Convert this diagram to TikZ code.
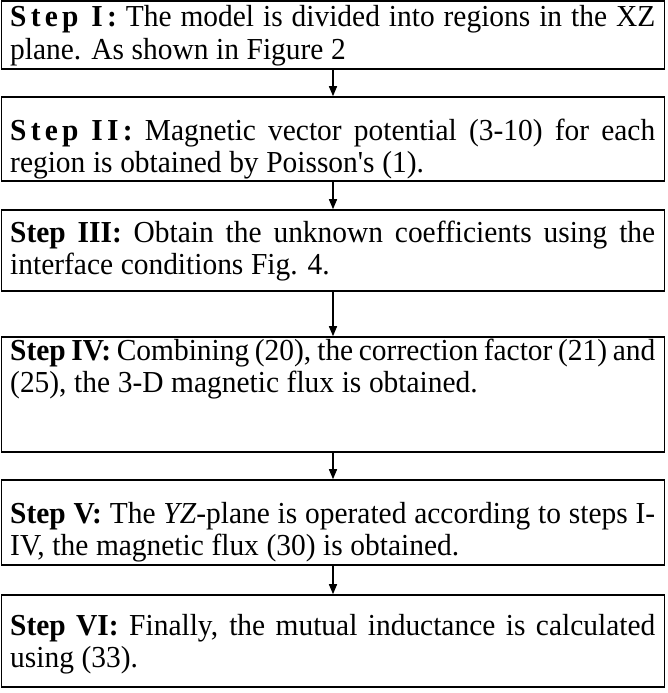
\documentclass[tikz,border=0pt]{standalone}
\usepackage{fontspec}
\setmainfont{Liberation Serif}[FakeStretch=0.965, Ligatures=TeXOff]
\usetikzlibrary{arrows.meta}
\newcommand{\stepfont}{\fontsize{30.5}{32.5}\selectfont\spaceskip=0.25em plus 0.25em minus 0.1em\relax}
\newcommand{\spaced}[1]{{\bfseries\addfontfeature{LetterSpace=14}#1}}
\newcommand{\spacedlabel}[1]{\spaced{Step}\hspace{0.42em}\spaced{#1}}
\tikzset{
  stepbox/.style={draw, line width=1.6pt, rectangle, minimum width=663pt, inner sep=0pt},
  steptext/.style={anchor=base west, text width=645pt, align=justify, inner sep=0pt, font=\stepfont},
  flow/.style={-{Triangle[length=10pt,width=8pt]}, line width=1.4pt}
}
\begin{document}
\begin{tikzpicture}[x=1pt,y=-1pt]
\useasboundingbox (0,0) rectangle (668,693);
% boxes
\node[stepbox, minimum height=68pt]  (b1) at (333,35) {};
\node[stepbox, minimum height=84pt]  (b2) at (333,139) {};
\node[stepbox, minimum height=81pt]  (b3) at (333,250.5) {};
\node[stepbox, minimum height=115pt] (b4) at (333,394.5) {};
\node[stepbox, minimum height=85pt]  (b5) at (333,522.5) {};
\node[stepbox, minimum height=92pt]  (b6) at (333,641) {};
% texts
\node[steptext] (t1) at (10,27) {\spacedlabel{I:} The model is divided into regions in the XZ\linebreak plane. As shown in Figure 2};
\node[steptext] (t2) at (10,140) {\spacedlabel{II:} Magnetic vector potential (3-10) for each\linebreak region is obtained by Poisson's (1).};
\node[steptext] (t3) at (10,242) {\textbf{Step III:} Obtain the unknown coefficients using the\linebreak interface conditions Fig. 4.};
\node[steptext] (t4) at (10,360) {\textbf{Step IV:} Combining (20), the correction factor (21) and\linebreak (25), the 3-D magnetic flux is obtained.};
\node[steptext] (t5) at (10,523) {\textbf{Step V:} The \textit{YZ}-plane is operated according to steps I-\linebreak IV, the magnetic flux (30) is obtained.};
\node[steptext] (t6) at (10,635) {\textbf{Step VI:} Finally, the mutual inductance is calculated\linebreak using (33).};
% arrows
\draw[flow] (b1) -- (b2);
\draw[flow] (b2) -- (b3);
\draw[flow] (b3) -- (b4);
\draw[flow] (b4) -- (b5);
\draw[flow] (b5) -- (b6);
\end{tikzpicture}
\end{document}
